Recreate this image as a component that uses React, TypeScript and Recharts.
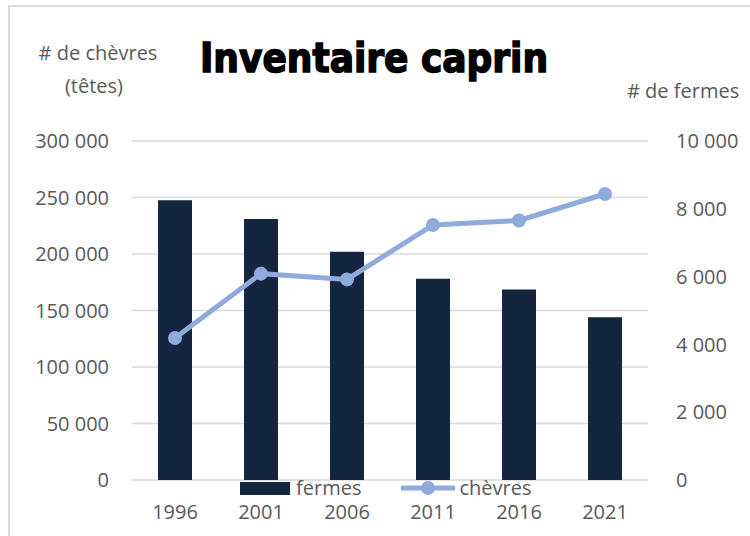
import { ComposedChart, Bar, Line, XAxis, YAxis, CartesianGrid, Legend } from 'recharts'

const years = ['1996', '2001', '2006', '2011', '2016', '2021']
const fermes = [8250, 7700, 6730, 5940, 5620, 4800]
const chevres = [125700, 182600, 177500, 225700, 229700, 253100]
const leftTicks = [0, 50000, 100000, 150000, 200000, 250000, 300000]
const rightTicks = [0, 2000, 4000, 6000, 8000, 10000]

const BAR_COLOR = '#13253f'
const LINE_COLOR = '#8faadc'
const TEXT_COLOR = '#595959'
const FONT = "'Open Sans', 'Noto Sans', sans-serif"

const data = years.map((year, i) => ({ year, fermes: fermes[i], chevres: chevres[i] }))

const fmt = (v: number) => String(v).replace(/\B(?=(\d{3})+(?!\d))/g, ' ')

const tickStyle = { fontSize: 20, fill: TEXT_COLOR, fontFamily: FONT }

function LegendContent({ payload }: any) {
  const items = [...(payload ?? [])].sort((a: any, b: any) => (a.dataKey === 'fermes' ? -1 : b.dataKey === 'fermes' ? 1 : 0))
  return (
    <div style={{ display: 'flex', alignItems: 'center', fontFamily: FONT, fontSize: 20, lineHeight: '20px', color: TEXT_COLOR }}>
      {items.map((p: any) =>
        p.dataKey === 'fermes' ? (
          <div key="fermes" style={{ display: 'flex', alignItems: 'center', marginRight: 40 }}>
            <span style={{ display: 'inline-block', width: 50, height: 13, background: BAR_COLOR, marginRight: 6 }} />
            <span>{p.value}</span>
          </div>
        ) : (
          <div key="chevres" style={{ display: 'flex', alignItems: 'center' }}>
            <svg width={54} height={16} style={{ marginRight: 4 }}>
              <line x1={0} y1={8} x2={54} y2={8} stroke={LINE_COLOR} strokeWidth={5} strokeLinecap="round" />
              <circle cx={27} cy={8} r={7} fill={LINE_COLOR} />
            </svg>
            <span>{p.value}</span>
          </div>
        )
      )}
    </div>
  )
}

export default function App() {
  return (
    <div style={{ position: 'absolute', left: 0, top: 0, width: 750, height: 536, background: '#fff', overflow: 'hidden' }}>
      <div style={{ position: 'absolute', left: 8, top: 5, width: 760, height: 560, borderLeft: '2px solid #d9d9d9', borderTop: '2px solid #d9d9d9' }} />
      <ComposedChart width={750} height={536} data={data} margin={{ top: 141, right: 0, bottom: 26, left: 0 }}>
        <CartesianGrid yAxisId="left" vertical={false} stroke="#d9d9d9" strokeWidth={1.5} />
        <XAxis dataKey="year" height={30} tick={tickStyle} tickLine={false} axisLine={false} tickSize={0} tickMargin={25} />
        <YAxis
          yAxisId="left"
          width={132}
          domain={[0, 300000]}
          ticks={leftTicks}
          tickFormatter={fmt}
          tick={tickStyle}
          tickLine={false}
          axisLine={false}
          tickSize={0}
          tickMargin={23}
        />
        <YAxis
          yAxisId="right"
          orientation="right"
          width={102}
          domain={[0, 10000]}
          ticks={rightTicks}
          tickFormatter={fmt}
          tick={{ ...tickStyle, textAnchor: 'start' }}
          tickLine={false}
          axisLine={false}
          tickSize={0}
          tickMargin={28}
        />
        <Legend
          verticalAlign="middle"
          align="center"
          content={<LegendContent />}
          wrapperStyle={{ left: 240, top: 478, width: 400, height: 22 }}
        />
        <Bar yAxisId="right" dataKey="fermes" name="fermes" fill={BAR_COLOR} barSize={34} isAnimationActive={false} />
        <Line
          yAxisId="left"
          dataKey="chevres"
          name="chèvres"
          stroke={LINE_COLOR}
          strokeWidth={5}
          dot={{ r: 7, fill: LINE_COLOR, stroke: LINE_COLOR, strokeWidth: 0 }}
          isAnimationActive={false}
        />
      </ComposedChart>
      <svg width={750} height={536} style={{ position: 'absolute', left: 0, top: 0, pointerEvents: 'none' }}>
        <text
          x={374}
          y={72}
          textAnchor="middle"
          fontFamily="'DejaVu Sans Condensed', 'DejaVu Sans', sans-serif"
          fontWeight="bold"
          fontSize={40}
          style={{ fontStretch: 'condensed' }}
          stroke="#000"
          strokeWidth={1.4}
          fill="#000"
        >
          Inventaire caprin
        </text>
        <g fontFamily={FONT} fontSize={20} fill={TEXT_COLOR}>
          <text x={98} y={60} textAnchor="middle">
            # de chèvres
          </text>
          <text x={94} y={93} textAnchor="middle">
            (têtes)
          </text>
          <text x={627} y={98}>
            # de fermes
          </text>
        </g>
      </svg>
    </div>
  )
}
